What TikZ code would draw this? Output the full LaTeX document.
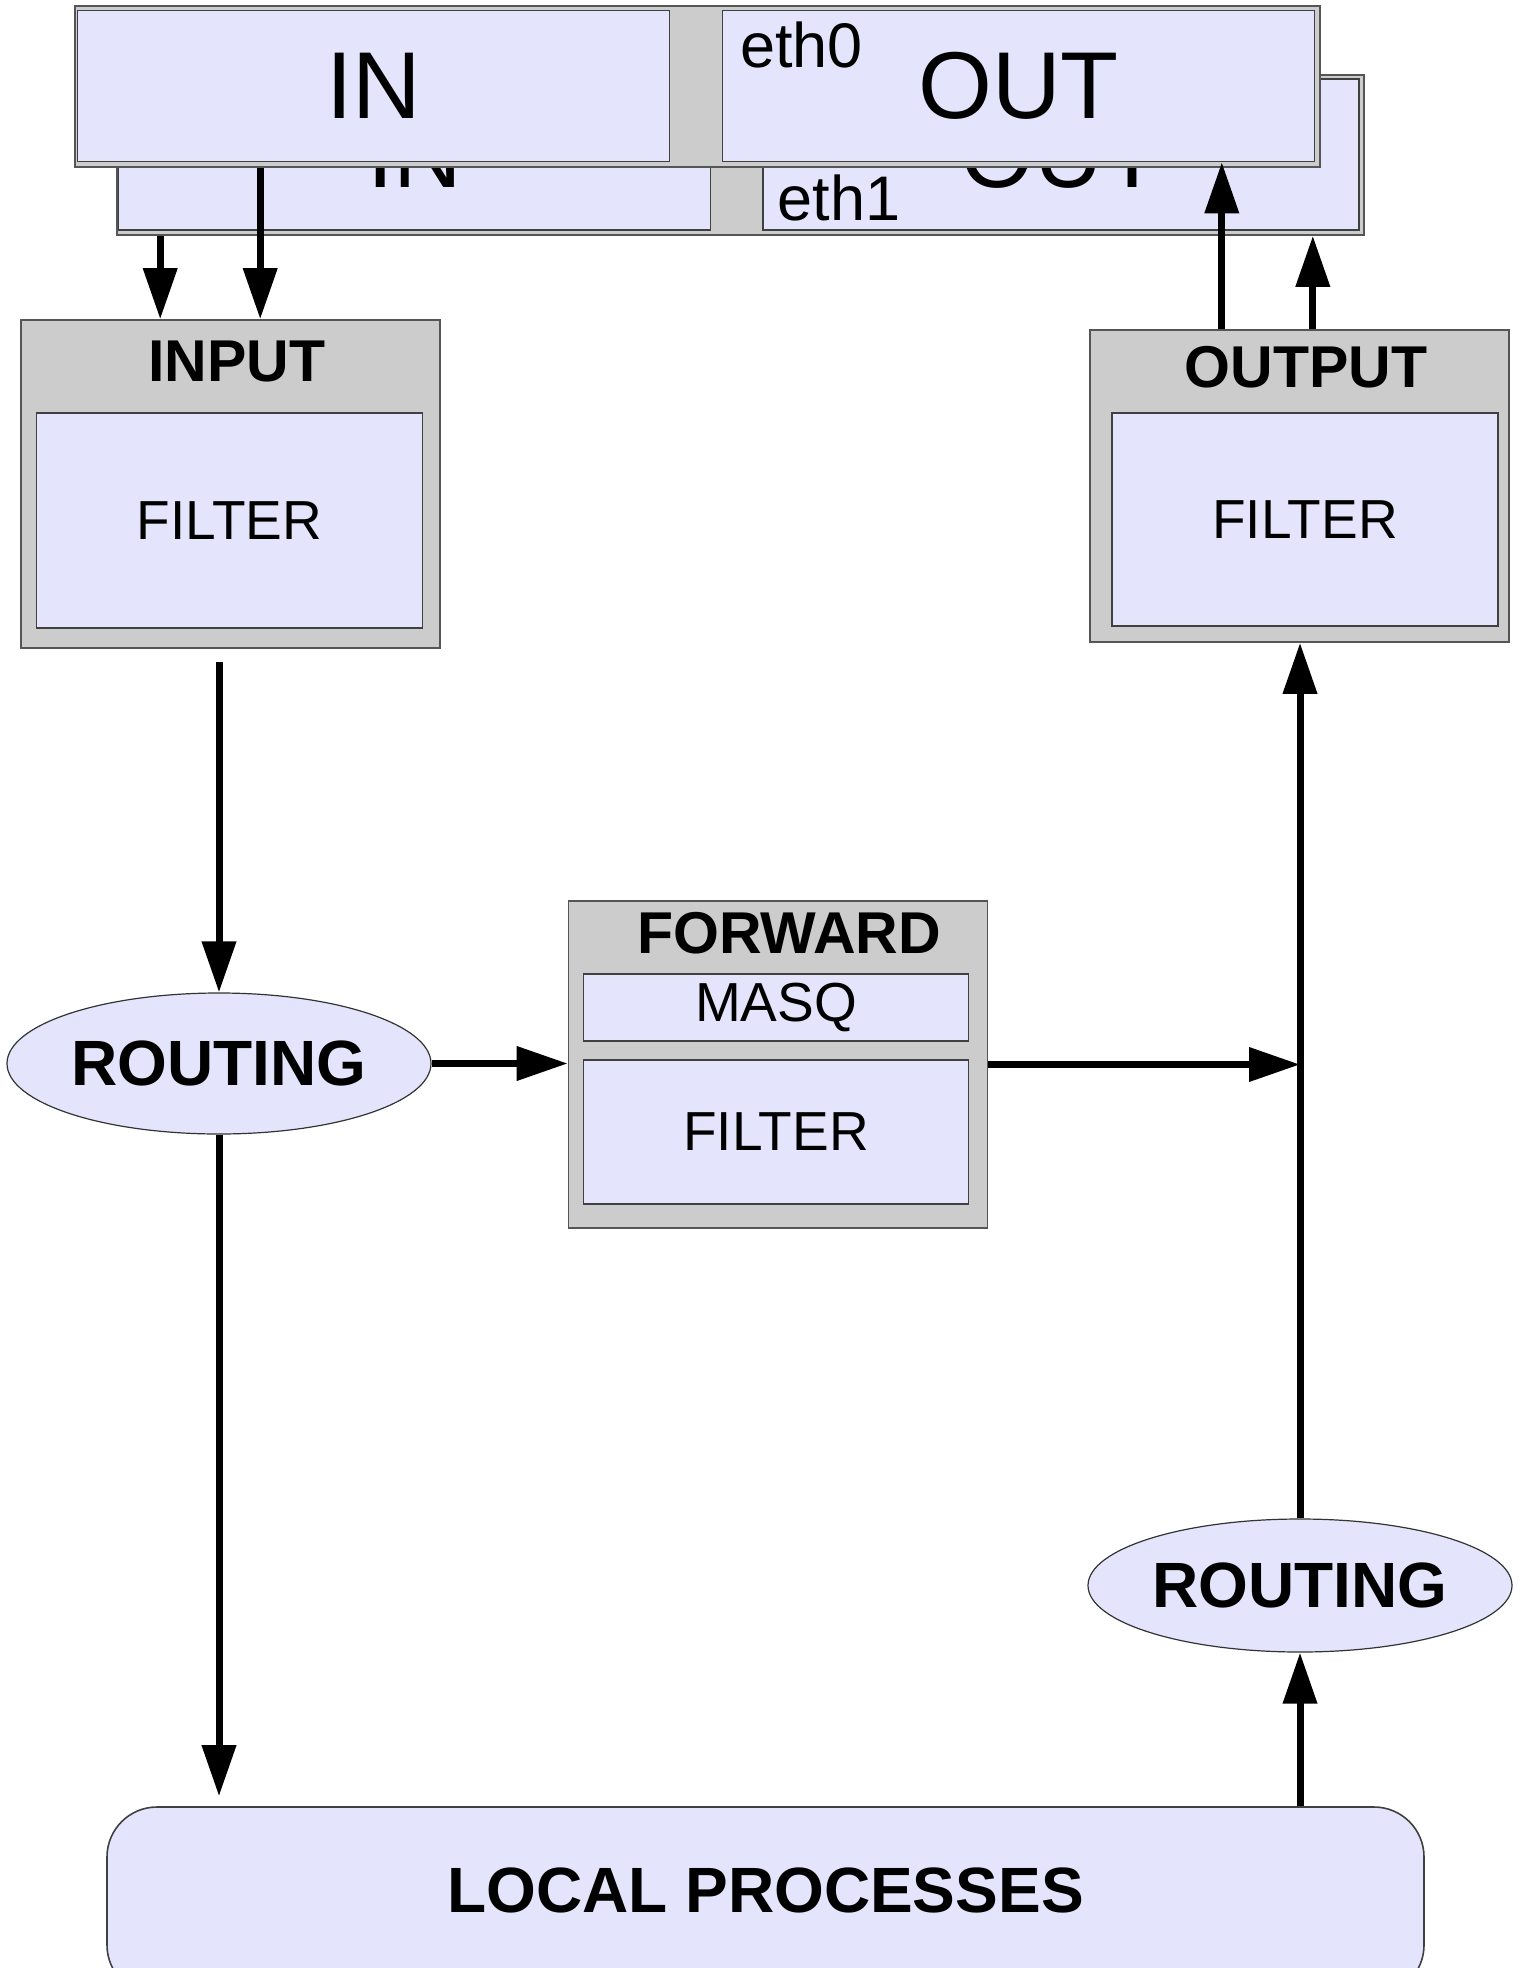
\documentclass[tikz,border=0pt]{standalone}
\usepackage{fontspec}
\setmainfont{Liberation Sans}
\usetikzlibrary{arrows.meta,shapes.geometric,calc}
\definecolor{lav}{RGB}{228,228,252}
\definecolor{chaingray}{RGB}{204,204,204}
\definecolor{edgegray}{RGB}{85,85,85}
\newcommand\bigtxt{\fontsize{47.5}{50}\selectfont}
\newcommand\ethtxt{\fontsize{31.5}{33}\selectfont}
\newcommand\bodytxt{\fontsize{27.5}{29}\selectfont}
\newcommand\headtxt{\fontsize{29.5}{32}\selectfont\bfseries}
\newcommand\routetxt{\fontsize{32}{35}\selectfont\bfseries}

\begin{document}
\begin{tikzpicture}[x=0.5pt,y=-0.5pt,
  chain/.style={draw=edgegray,fill=chaingray,line width=0.8pt,inner sep=0pt},
  rule/.style={draw=black!75,fill=lav,line width=0.8pt,inner sep=0pt,font=\bodytxt},
  iface/.style={rule,minimum width=296pt,minimum height=75.5pt,font=\bigtxt},
  route/.style={ellipse,draw=black!80,fill=lav,line width=0.6pt,inner sep=0pt,
    minimum width=212pt,minimum height=70.5pt,font=\routetxt},
  flow/.style={line width=3.5pt,-{Triangle[length=25.5pt,width=16.5pt]}},
]
\useasboundingbox (0,0) rectangle (1521,1968);
\clip (0,0) rectangle (1521,1968);

% eth1 (behind)
\node[chain,minimum width=623.5pt,minimum height=80pt] (fr1) at (740.5,155) {};
\node[iface] (in1) at (414.5,154.5) {IN};
\node[iface,minimum width=298pt] (out1) at (1061,154.5) {OUT};
\node[inner sep=0pt,font=\ethtxt,anchor=base west,xshift=7.5pt,yshift=5pt] (eth1) at (out1.south west) {eth1};

% eth0 (front)
\node[chain,minimum width=622.5pt,minimum height=80.5pt] (fr0) at (697.5,86.5) {};
\node[iface] (in0) at (373.5,86) {IN};
\node[iface] (out0) at (1018.5,86) {OUT};
\node[inner sep=0pt,font=\ethtxt,anchor=north west,xshift=9pt,yshift=-6pt] (eth0) at (out0.north west) {eth0};

% input chain
\node[chain,minimum width=209.5pt,minimum height=164pt] (input) at (230.5,484) {};
\node[font=\headtxt] (inputlbl) at (237,361) {INPUT};
\node[rule,minimum width=193pt,minimum height=107.5pt] (infilter) at (229.5,520.5) {FILTER};

% output chain
\node[chain,minimum width=209.5pt,minimum height=156pt] (output) at (1299.5,486) {};
\node[font=\headtxt] (outputlbl) at (1306,367) {OUTPUT};
\node[rule,minimum width=193pt,minimum height=106.5pt] (outfilter) at (1305,519.5) {FILTER};

% forward chain
\node[chain,minimum width=209.5pt,minimum height=163.5pt] (forward) at (778,1064.5) {};
\node[font=\headtxt] (forwardlbl) at (789,933) {FORWARD};
\node[rule,minimum width=192.5pt,minimum height=33.5pt] (masq) at (776,1007.5) {MASQ};
\node[rule,minimum width=192.5pt,minimum height=72pt] (fwfilter) at (776,1132) {FILTER};

% routing decisions
\node[route] (rtin) at (219,1063.5) {ROUTING};
\node[route,minimum height=66.5pt] (rtout) at (1300,1585.5) {ROUTING};

% local processes
\node[draw=black!75,fill=lav,line width=0.8pt,rounded corners=25pt,
  minimum width=658.5pt,minimum height=94pt] (local) at (765.5,1901) {};
\node[font=\routetxt] (locallbl) at (765.5,1890) {LOCAL PROCESSES};

% arrows
\draw[flow] ([xshift=70pt]input.north west |- fr1.south) -- ([xshift=70pt]input.north west);
\draw[flow] ([xshift=120pt]input.north west |- fr0.south) -- ([xshift=120pt]input.north west);
\draw[flow] ([xshift=-144pt]output.north east) -- ([xshift=-144pt]output.north east |- out0.south);
\draw[flow] ([xshift=-98.5pt]output.north east) -- ([xshift=-98.5pt]output.north east |- fr1.south);

\draw[flow] ($(rtin.north |- input.south)+(0,13)$) -- (rtin.north);
\draw[flow] (rtin.east) -- (rtin.east -| forward.west);
\draw[flow] (forward.east) -- (forward.east -| rtout.north);
\draw[flow] (rtout.north) -- (rtout.north |- output.south);
\draw[flow] (rtout.south |- local.north) -- (rtout.south);
\draw[flow] (rtin.south) -- ($(rtin.south |- local.north)+(0,-10)$);
\end{tikzpicture}
\end{document}
